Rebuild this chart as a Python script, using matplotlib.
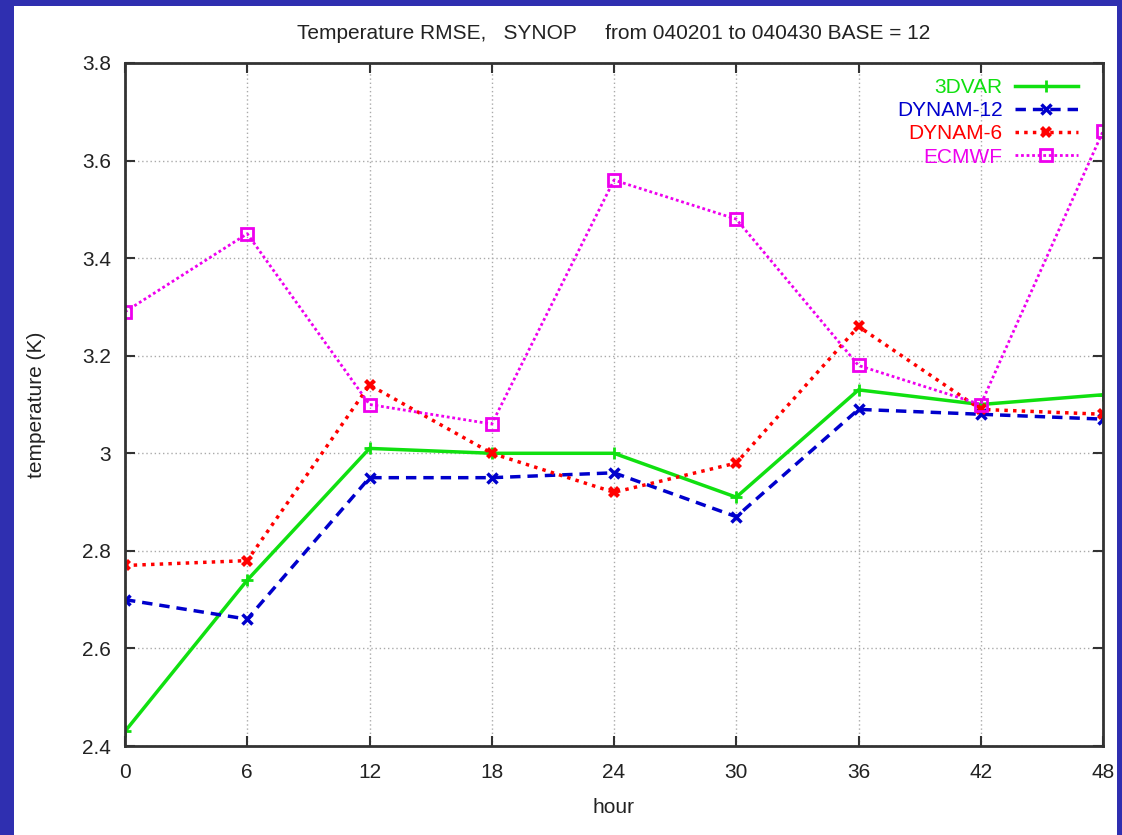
import numpy as np
import matplotlib.pyplot as plt
from matplotlib.ticker import FormatStrFormatter

plt.rcParams['font.family'] = ['Liberation Sans', 'DejaVu Sans']

hours = [0, 6, 12, 18, 24, 30, 36, 42, 48]
var3d = [2.43, 2.74, 3.01, 3.00, 3.00, 2.91, 3.13, 3.10, 3.12]
dynam12 = [2.70, 2.66, 2.95, 2.95, 2.96, 2.87, 3.09, 3.08, 3.07]
dynam6 = [2.77, 2.78, 3.14, 3.00, 2.92, 2.98, 3.26, 3.09, 3.08]
ecmwf = [3.29, 3.45, 3.10, 3.06, 3.56, 3.48, 3.18, 3.10, 3.66]

fig = plt.figure(figsize=(11.22, 8.35), dpi=100)
fig.patch.set_facecolor('#2f2fb0')
# white page inside the blue frame
fig.patches.append(plt.Rectangle((14/1122, 0), (1117-14)/1122, 1-6/835,
                                 transform=fig.transFigure, facecolor='white',
                                 edgecolor='none', zorder=-10))

ax = fig.add_axes([125/1122, 1-746/835, (1103-125)/1122, (746-63)/835])

ax.plot(hours, var3d, color='#10e010', lw=2.5, marker='+', ms=8, mew=2, label='3DVAR')
ax.plot(hours, dynam12, color='#0000cc', lw=2.5, ls=(0, (3, 2)), marker='x', ms=7, mew=2.5, label='DYNAM-12')
ax.plot(hours, dynam6, color='#ff0000', lw=2.5, ls=(0, (1, 1.5)), marker='X', ms=8, mew=0, label='DYNAM-6')
ax.plot(hours, ecmwf, color='#ee00ee', lw=2, ls=(0, (1, 1)), marker='s', ms=8, mfc='none', mew=2, label='ECMWF')

ax.set_xlim(0, 48)
ax.set_ylim(2.4, 3.8)
ax.set_xticks(hours)
ax.set_yticks(np.arange(2.4, 3.81, 0.2))
ax.yaxis.set_major_formatter(FormatStrFormatter('%g'))
ax.tick_params(direction='in', top=True, right=True, length=7, width=1.5,
               labelsize=15, color='#333333', labelcolor='#222222')
ax.tick_params(axis='x', pad=12)
ax.tick_params(axis='y', pad=10)
for s in ax.spines.values():
    s.set_linewidth(2)
    s.set_color('#333333')
ax.grid(True, color='#aaaaaa', ls=(0, (1, 2)), lw=1)

ax.set_xlabel('hour', fontsize=15, color='#222222', labelpad=12)
ax.set_ylabel('temperature (K)', fontsize=15, color='#222222', labelpad=26)
ax.set_title('Temperature RMSE,   SYNOP     from 040201 to 040430 BASE = 12',
             fontsize=15, color='#222222', pad=17)

leg = ax.legend(loc='upper right', bbox_to_anchor=(0.974, 0.978), frameon=False,
                markerfirst=False, labelcolor='linecolor', fontsize=15,
                handlelength=3.0, borderaxespad=0, borderpad=0,
                labelspacing=0.2, handletextpad=0.6)
for t in leg.get_texts():
    t.set_ha('right')

fig.savefig('out.png', dpi=100, facecolor=fig.get_facecolor())
